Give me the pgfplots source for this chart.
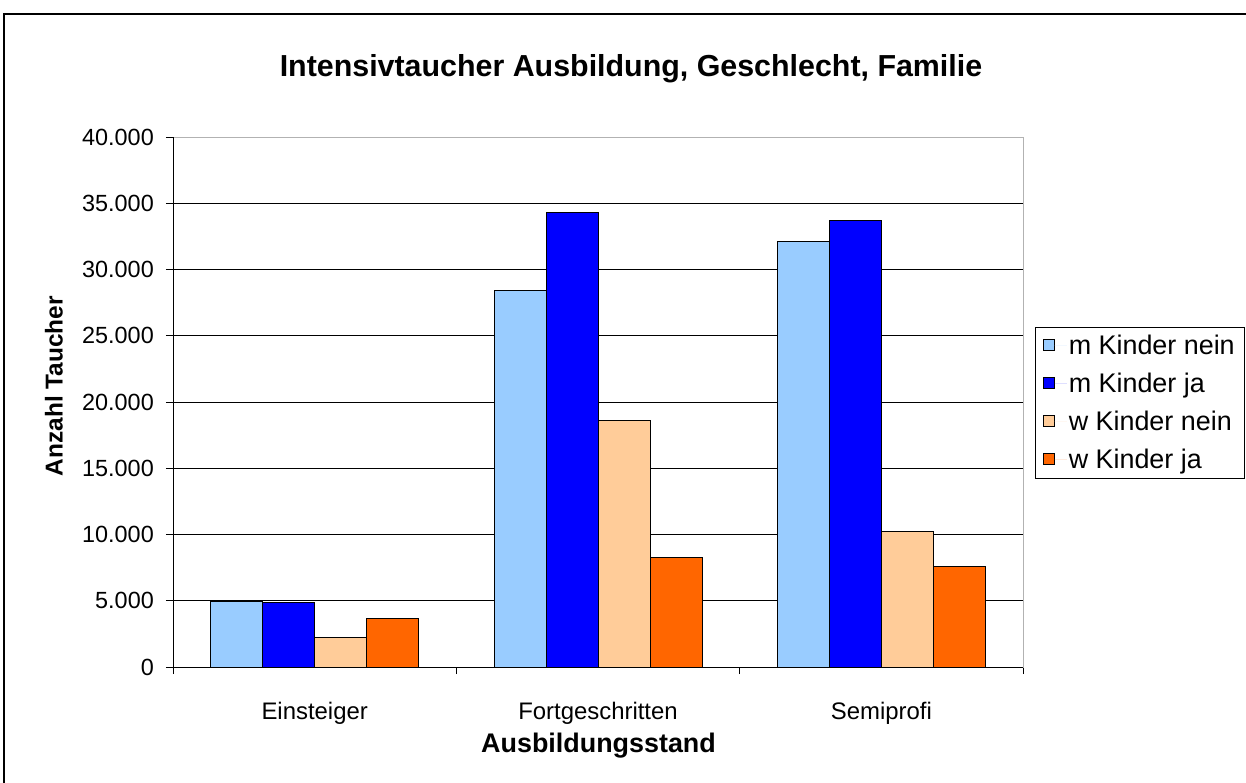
\documentclass[border=0pt]{standalone}
\usepackage{pgfplots}
\pgfplotsset{compat=1.18}
\usepackage{fontspec}
\setmainfont{Liberation Sans}
\definecolor{mnein}{HTML}{99CCFF}
\definecolor{mja}{HTML}{0000FF}
\definecolor{wnein}{HTML}{FFCC99}
\definecolor{wja}{HTML}{FF6600}
\begin{document}
\begin{tikzpicture}
\begin{axis}[
  at={(0,0)}, anchor=south west,
  scale only axis, width=850bp, height=530bp,
  ybar=0pt, bar width=52bp,
  xmin=-0.5, xmax=2.5, ymin=0, ymax=40000,
  xtick={0,1,2}, xticklabels={Einsteiger,Fortgeschritten,Semiprofi},
  minor xtick={-0.5,0.5,1.5,2.5},
  major x tick style={draw=none},
  xtick pos=bottom, ytick pos=left,
  ytick={0,5000,...,40000},
  scaled y ticks=false,
  /pgf/number format/.cd, 1000 sep={.}, assume math mode=true, /pgfplots/.cd,
  tick align=outside, major tick length=7bp, minor tick length=7bp,
  tick style={black, line width=0.8bp},
  ymajorgrids, grid style={black, line width=0.8bp},
  axis line style={gray!60, line width=0.8bp},
  yticklabel style={font=\fontsize{23.5}{27}\selectfont, anchor=east, xshift=-12bp, inner sep=0pt},
  xticklabel style={font=\fontsize{24}{27}\selectfont, anchor=base, yshift=-45bp},
  ylabel={\bfseries Anzahl Taucher},
  ylabel style={at={(axis description cs:-0.14,0.53)}, anchor=center, font=\fontsize{24.5}{29}\selectfont},
  xlabel={\bfseries Ausbildungsstand},
  xlabel style={at={(axis description cs:0.5006,-0.162)}, anchor=base, font=\fontsize{27}{31}\selectfont},
  legend style={at={(axis description cs:1.0141,0.6415)}, anchor=north west,
    draw=black, line width=0.8bp, font=\fontsize{27}{31}\selectfont,
    row sep=13bp, inner xsep=8bp, inner ysep=6bp, cells={anchor=west}},
  legend image code/.code={\draw[#1, line width=0.8bp] (0bp,-5bp) rectangle (11bp,6bp); \path[draw=none] (0bp,0bp) -- (23bp,0bp);},
  every axis plot/.append style={draw=black, line width=0.9bp},
]
\addplot[fill=mnein] coordinates {(0,4980) (1,28400) (2,32150)};
\addplot[fill=mja]   coordinates {(0,4900) (1,34300) (2,33700)};
\addplot[fill=wnein] coordinates {(0,2200) (1,18570) (2,10200)};
\addplot[fill=wja]   coordinates {(0,3650) (1,8300) (2,7600)};
\legend{m Kinder nein, m Kinder ja, w Kinder nein, w Kinder ja}
\draw[black, line width=0.8bp] (axis description cs:0,0) -- (axis description cs:0,1);
\draw[black, line width=0.8bp] (axis description cs:0,0) -- (axis description cs:1,0);
\end{axis}
\node[anchor=base, font=\bfseries\fontsize{30.5}{34}\selectfont] at (458bp,590bp) {Intensivtaucher Ausbildung, Geschlecht, Familie};
\draw[black, line width=2bp] (-169bp,653bp) rectangle (1085bp,-130bp);
\pgfresetboundingbox
\useasboundingbox (-173bp,667bp) rectangle (1073bp,-116bp);
\end{tikzpicture}
\end{document}
